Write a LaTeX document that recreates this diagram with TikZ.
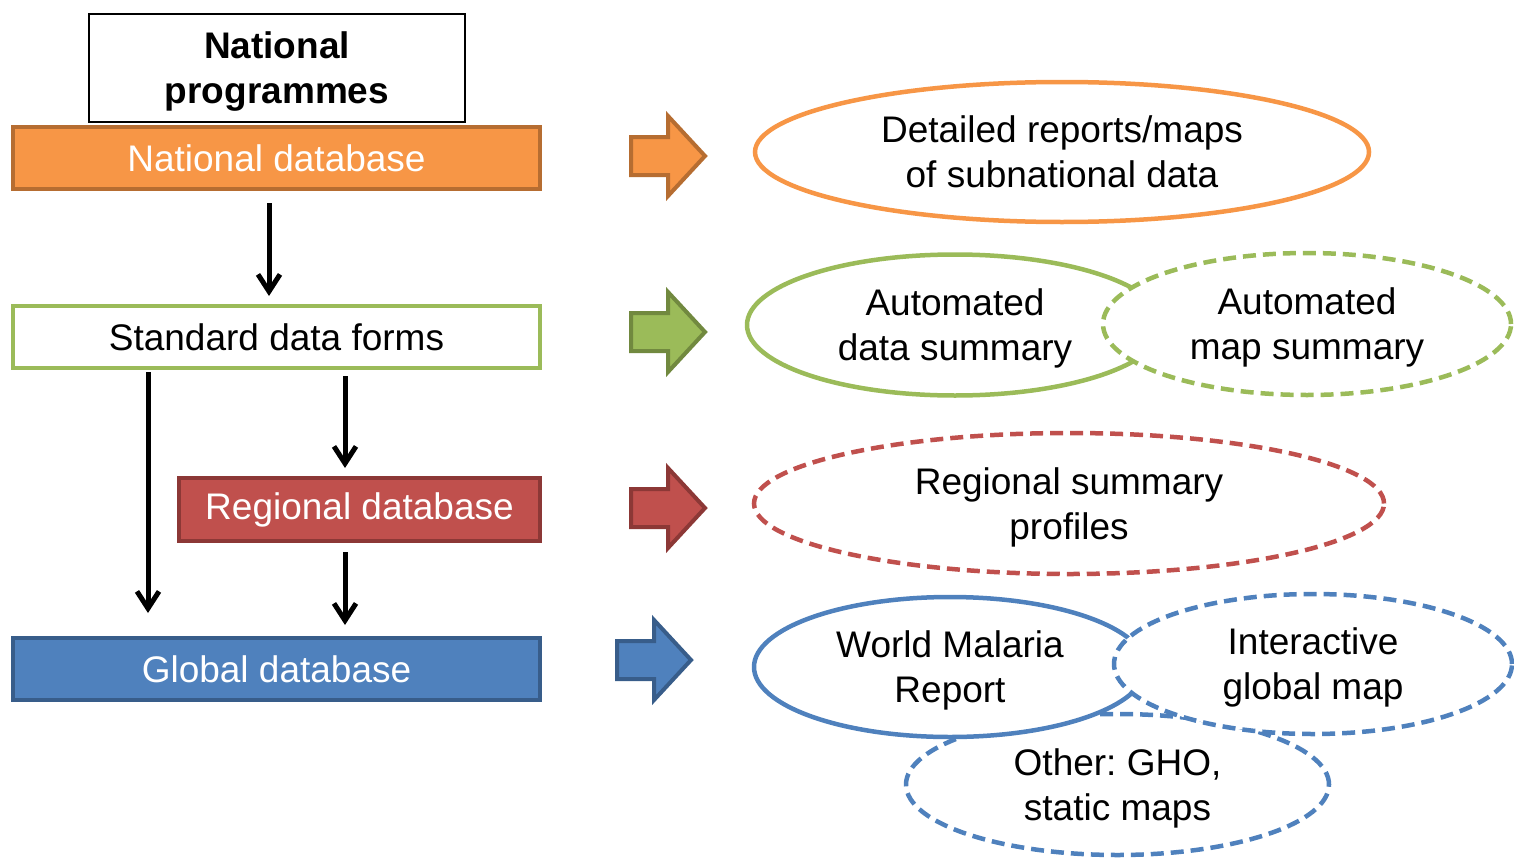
\documentclass[tikz,border=0pt]{standalone}
\usepackage{fontspec}
\setmainfont{Liberation Sans}
\usetikzlibrary{shapes.geometric,arrows.meta}
\frenchspacing

% Office-style accent colours
\definecolor{orfill}{HTML}{F79646}
\definecolor{orline}{HTML}{B66D31}
\definecolor{grfill}{HTML}{9BBB59}
\definecolor{grline}{HTML}{71893F}
\definecolor{rdfill}{HTML}{C0504D}
\definecolor{rdline}{HTML}{8C3836}
\definecolor{blfill}{HTML}{4F81BD}
\definecolor{blline}{HTML}{385D8A}

% Right-pointing block arrow: name, left x, centre y, colour prefix
\newcommand\blockarrow[4]{%
  \coordinate (#1) at (#2+37,#3);
  \draw[line width=4pt, line join=miter, fill=#4fill, draw=#4line]
    (#2,#3-19) -- ++(37,0) -- ++(0,-21) -- (#2+74,#3)
    -- (#2+37,#3+40) -- ++(0,-21) -- (#2,#3+19) -- cycle;}

\begin{document}
\begin{tikzpicture}[x=1pt,y=-1pt,
  txt/.style={font=\fontsize{37}{45}\selectfont, align=center},
  % two-line labels: fixed box so the lines sit optically centred
  twoline/.style={text height=72pt, text depth=0.5pt},
  dbbox/.style={txt, draw, line width=4pt, outer sep=2pt, inner sep=0pt,
    minimum height=62pt},
  outbox/.style={txt, twoline, ellipse, fill=white, line width=4.5pt,
    inner sep=0pt, outer sep=2pt},
  dashline/.style={dash pattern=on 13pt off 7pt},
  flow/.style={line width=5pt, -{Straight Barb[length=17pt,width=22pt]}}]

\useasboundingbox (0,0) rectangle (1514,859);

% ---- source chain ----
\node[txt, twoline, font=\fontsize{37}{45}\selectfont\bfseries, draw=black,
  line width=1.5pt, fill=white, inner sep=0pt, minimum width=376pt,
  minimum height=108pt]
  (prog) at (277,68) {National\\programmes};

\node[dbbox, fill=orfill, draw=orline, text=white, minimum width=527pt]
  (nat) at (276.5,158) {National database};
\node[dbbox, fill=white, draw=grfill, text=black, minimum width=527pt]
  (std) at (276.5,337) {Standard data forms};
\node[dbbox, fill=rdfill, draw=rdline, text=white, minimum width=361pt,
  minimum height=63pt]
  (reg) at (359.5,509.5) {Regional database};
\node[dbbox, fill=blfill, draw=blline, text=white, minimum width=527pt]
  (glob) at (276.5,669) {Global database};

% ---- flow between databases ----
\draw[flow, shorten <=12pt, shorten >=8pt]
  ([xshift=-7.5pt]nat.south) -- ([xshift=-7.5pt]std.north);
\draw[flow, shorten <=2pt, shorten >=23pt]
  ([xshift=-128.5pt]std.south) -- ([xshift=-128.5pt]glob.north);
\draw[flow, shorten <=6pt, shorten >=8pt]
  ([xshift=68.5pt]std.south) -- ([xshift=-14.5pt]reg.north);
\draw[flow, shorten <=9pt, shorten >=11pt]
  ([xshift=-14.5pt]reg.south) -- ([xshift=68.5pt]glob.north);

% ---- block arrows towards the products ----
\blockarrow{aor}{631}{156}{or}
\blockarrow{agr}{631}{332}{gr}
\blockarrow{ard}{631}{508}{rd}
\blockarrow{abl}{617}{660}{bl}

% ---- products ----
\node[outbox, draw=orfill, minimum width=614pt, minimum height=140pt]
  (det) at (1062,152) {Detailed reports/maps\\of subnational data};

\node[outbox, draw=grfill, minimum width=416pt, minimum height=141pt]
  (ads) at (955,325) {Automated\\data summary};
\node[outbox, draw=grfill, dashline, minimum width=408pt, minimum height=142pt]
  (ams) at (1307,324) {Automated\\map summary};

\node[outbox, draw=rdfill, dashline, minimum width=630pt, minimum height=141pt]
  (rsp) at (1069,503.5) {Regional summary\\profiles};

\node[outbox, draw=blfill, dashline, minimum width=423pt, minimum height=141pt]
  (oth) at (1117.5,784.5) {Other: GHO,\\static maps};
\node[outbox, draw=blfill, minimum width=392pt, minimum height=140pt]
  (wmr) at (950,667) {World Malaria\\Report};
\node[outbox, draw=blfill, dashline, minimum width=398pt, minimum height=140pt]
  (igm) at (1313,664) {Interactive\\global map};

\end{tikzpicture}
\end{document}
